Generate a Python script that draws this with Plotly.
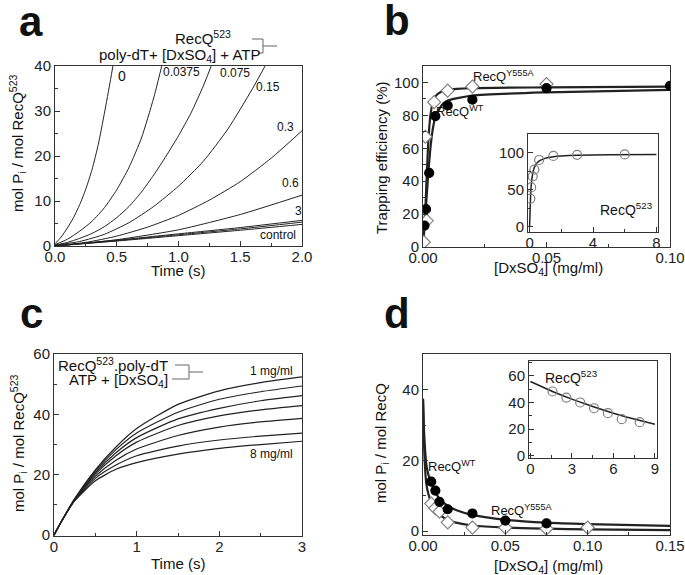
import plotly.graph_objects as go

W, H = 685, 575
FONT = "Liberation Sans, Arial, sans-serif"
INK = "#222222"
GREY = "#808080"

# ---------------- Panel a : ATPase time courses, RecQ523 + poly-dT + [DxSO4] + ATP
a_labels = ["0", "0.0375", "0.075", "0.15", "0.3", "0.6", "3", "1.5", "control"]
a_t_0 = [0, 0.05, 0.1, 0.15, 0.2, 0.25, 0.3, 0.35, 0.4, 0.45, 0.5]
a_y_0 = [0.5, 2.0, 4.0, 6.3, 9.2, 12.7, 17.0, 22.5, 29.5, 37.0, 45.0]
a_t_00375 = [0, 0.1, 0.2, 0.3, 0.4, 0.5, 0.6, 0.7, 0.8, 0.9]
a_y_00375 = [0.3, 1.5, 3.3, 5.5, 8.5, 12.5, 17.5, 24.0, 33.0, 44.0]
a_t_0075 = [0, 0.1, 0.2, 0.3, 0.4, 0.5, 0.6, 0.7, 0.8, 0.9, 1.0, 1.1, 1.2, 1.3]
a_y_0075 = [0.2, 0.8, 1.7, 2.8, 4.3, 6.3, 8.8, 12.0, 15.8, 20.0, 24.5, 29.5, 35.5, 42.5]
a_t_015 = [0, 0.2, 0.4, 0.6, 0.8, 1.0, 1.2, 1.4, 1.6, 1.8]
a_y_015 = [0.2, 1.0, 2.6, 5.2, 8.8, 13.3, 18.8, 26.0, 35.0, 45.0]
a_t_03 = [0, 0.25, 0.5, 0.75, 1.0, 1.25, 1.5, 1.75, 2.0]
a_y_03 = [0.1, 0.8, 2.2, 4.2, 6.8, 10.2, 14.3, 19.5, 25.6]
a_t_low = [0, 0.5, 1.0, 1.5, 2.0]
a_y_06 = [0.0, 1.4, 3.6, 7.0, 11.3]
a_y_3 = [0.0, 1.3, 2.7, 4.1, 5.7]
a_y_15 = [0.0, 1.2, 2.5, 3.8, 5.3]
a_y_control = [0.0, 1.1, 2.3, 3.5, 4.8]

# ---------------- Panel b : trapping efficiency vs [DxSO4]
b_wt_x = [0.0006, 0.0012, 0.0025, 0.005, 0.01, 0.02, 0.05, 0.1]
b_wt_y = [13, 23, 45, 79.5, 86, 89.5, 96.5, 98]
b_y555a_x = [0.0003, 0.0015, 0.001, 0.0045, 0.01, 0.02, 0.05]
b_y555a_y = [3, 16, 67, 88, 95, 97.5, 99]
b_fit_x = [0, 0.001, 0.002, 0.003, 0.004, 0.005, 0.0075, 0.01, 0.02, 0.05, 0.1]
b_fit_wt = [0, 20, 42, 60, 72, 79, 86, 89, 92, 94, 95.5]
b_fit_y555a = [0, 25, 60, 80, 88, 91.5, 94.5, 95.5, 96.5, 97, 97.5]
# inset: RecQ523
b_in_x = [0.05, 0.1, 0.2, 0.3, 0.6, 1.5, 3, 6]
b_in_y = [38, 53, 68, 77, 90, 95.5, 97, 97.5]
b_in_fit_x = [0, 0.03, 0.06, 0.1, 0.2, 0.3, 0.5, 1, 1.5, 2, 3, 5, 8]
b_in_fit_y = [0, 20, 40, 55, 72, 80, 87, 92.5, 94.5, 95.5, 96.5, 97, 97.3]

# ---------------- Panel c : RecQ523.poly-dT + ATP + [DxSO4]
c_t = [0, 0.1, 0.25, 0.5, 0.75, 1.0, 1.5, 2.0, 2.5, 3.0]
c_conc = ["1 mg/ml", "2 mg/ml", "3 mg/ml", "4 mg/ml", "5 mg/ml", "6 mg/ml", "8 mg/ml"]
c_y_1 = [0, 5, 12.0, 21.6, 29.2, 35.3, 43.3, 47.8, 50.5, 52.4]
c_y_2 = [0, 5, 12.0, 21.2, 28.3, 33.8, 40.7, 45.0, 47.5, 49.4]
c_y_3 = [0, 5, 11.9, 20.7, 27.3, 32.3, 38.5, 42.0, 44.5, 46.2]
c_y_4 = [0, 5, 11.8, 20.2, 26.3, 30.8, 36.3, 39.5, 41.5, 42.9]
c_y_5 = [0, 5, 11.7, 19.5, 24.8, 28.5, 33.0, 35.8, 37.5, 38.7]
c_y_6 = [0, 5, 11.5, 18.8, 23.2, 26.3, 29.5, 31.5, 32.8, 33.8]
c_y_8 = [0, 5, 11.3, 18.0, 21.8, 24.0, 26.8, 28.7, 30.0, 31.1]

# ---------------- Panel d : mol Pi / mol RecQ vs [DxSO4]
d_wt_x = [0.005, 0.0075, 0.01, 0.015, 0.03, 0.05, 0.075]
d_wt_y = [14, 11.5, 8.3, 6.2, 5.0, 3.0, 2.2]
d_y555a_x = [0.005, 0.0075, 0.01, 0.015, 0.03, 0.05, 0.075, 0.1]
d_y555a_y = [7.8, 6.5, 5.5, 2.5, 1.0, 1.0, 0.7, 1.0]
d_fit_x = [0, 0.0005, 0.001, 0.002, 0.003, 0.004, 0.005, 0.0075, 0.01, 0.015, 0.02, 0.03, 0.05, 0.075, 0.1, 0.15]
d_fit_wt = [37.5, 30, 25, 19, 16.5, 15, 13.8, 11, 9.2, 7.2, 6.0, 4.6, 3.2, 2.4, 2.0, 1.5]
d_fit_y555a = [37.5, 27, 20, 13.5, 11, 9.4, 8.2, 6.0, 4.7, 3.2, 2.4, 1.6, 1.0, 0.7, 0.5, 0.3]
# inset: RecQ523
d_in_x = [1.6, 2.6, 3.6, 4.6, 5.6, 6.6, 7.9]
d_in_y = [48.2, 43.7, 40.0, 35.7, 32.0, 27.5, 25.3]
d_in_fit_x = [0, 1, 2, 3, 4, 5, 6, 7, 8, 9]
d_in_fit_y = [55.7, 51.0, 46.5, 42.5, 38.8, 35.3, 32.0, 29.0, 26.3, 23.8]


def px(x):
    return x / W


def py(y):
    return 1 - y / H


fig = go.Figure()


def line(x, y, ax, width=1.0, color=INK, name=""):
    fig.add_trace(go.Scatter(x=x, y=y, mode="lines", name=name,
                             line=dict(color=color, width=width, shape="spline", smoothing=0.6),
                             xaxis=ax[0], yaxis=ax[1], hoverinfo="skip"))


def pts(x, y, ax, symbol, size, fill, edge, name=""):
    fig.add_trace(go.Scatter(x=x, y=y, mode="markers", name=name,
                             marker=dict(symbol=symbol, size=size, color=fill,
                                         line=dict(color=edge, width=1.2)),
                             xaxis=ax[0], yaxis=ax[1]))


A = ("x", "y"); B = ("x2", "y2"); BI = ("x3", "y3"); C = ("x4", "y4"); D = ("x5", "y5"); DI = ("x6", "y6")

# panel a
for t, yv, nm in [(a_t_0, a_y_0, a_labels[0]), (a_t_00375, a_y_00375, a_labels[1]),
                  (a_t_0075, a_y_0075, a_labels[2]), (a_t_015, a_y_015, a_labels[3]),
                  (a_t_03, a_y_03, a_labels[4]), (a_t_low, a_y_06, a_labels[5]),
                  (a_t_low, a_y_3, a_labels[6]), (a_t_low, a_y_15, a_labels[7]),
                  (a_t_low, a_y_control, a_labels[8])]:
    line(t, yv, A, 1.0, name=nm)

# panel b
line(b_fit_x, b_fit_wt, B, 2.2, name="WT fit")
line(b_fit_x, b_fit_y555a, B, 2.2, name="Y555A fit")
pts(b_y555a_x, b_y555a_y, B, "diamond", 10, "white", GREY, "RecQ Y555A")
pts(b_wt_x, b_wt_y, B, "circle", 9, "black", "black", "RecQ WT")
line(b_in_fit_x, b_in_fit_y, BI, 1.5, name="523 fit")
pts(b_in_x, b_in_y, BI, "circle", 9, "rgba(0,0,0,0)", GREY, "RecQ523")

# panel c
for yv, nm in zip([c_y_1, c_y_2, c_y_3, c_y_4, c_y_5, c_y_6, c_y_8], c_conc):
    line(c_t, yv, C, 1.2, name=nm)

# panel d
line(d_fit_x, d_fit_wt, D, 2.2, name="WT fit")
line(d_fit_x, d_fit_y555a, D, 2.2, name="Y555A fit")
pts(d_y555a_x, d_y555a_y, D, "diamond", 10, "white", GREY, "RecQ Y555A")
pts(d_wt_x, d_wt_y, D, "circle", 9, "black", "black", "RecQ WT")
line(d_in_fit_x, d_in_fit_y, DI, 1.5, name="523 fit")
pts(d_in_x, d_in_y, DI, "circle", 9, "rgba(0,0,0,0)", GREY, "RecQ523")


def axis(dom, rng, dtick, minor, fmt=None, anchor=None, size=15, xa=True):
    d = dict(domain=dom, range=rng, dtick=dtick, tick0=0, showline=True, mirror=True,
             linecolor="#333", linewidth=1, ticks="inside", ticklen=5, tickcolor="#333",
             showgrid=False, zeroline=False, automargin=False,
             tickfont=dict(size=size, color="#222", family=FONT),
             minor=dict(ticks="inside", ticklen=3, dtick=minor, tickcolor="#333", showgrid=False),
             anchor=anchor, fixedrange=True)
    if xa:
        d["ticklabelstandoff"] = -3
    if fmt:
        d["tickformat"] = fmt
    return d


def xdom(l, r):
    return [px(l), px(r)]


def ydom(top, bottom):
    return [py(bottom), py(top)]


fig.update_layout(
    template="none",
    width=W, height=H, margin=dict(l=0, r=0, t=0, b=0, pad=0), autosize=False,
    paper_bgcolor="white", plot_bgcolor="white", showlegend=False,
    font=dict(family=FONT, color="#222", size=15),
    xaxis=axis(xdom(55, 302), [0, 2], 0.5, 0.25, ".1f", "y"),
    yaxis=axis(ydom(66, 246), [0, 40], 10, 5, None, "x", xa=False),
    xaxis2=axis(xdom(423, 670), [0, 0.1], 0.05, 0.025, ".2f", "y2"),
    yaxis2=axis(ydom(66, 247), [0, 110], 20, 10, None, "x2", xa=False),
    xaxis3=axis(xdom(528, 658), [-0.1, 8.1], 4, 2, None, "y3"),
    yaxis3=axis(ydom(134, 232), [-7, 125], 50, 25, None, "x3", xa=False),
    xaxis4=axis(xdom(54, 302), [0, 3], 1, 0.5, None, "y4"),
    yaxis4=axis(ydom(354, 536), [-0.3, 60], 20, 10, None, "x4", xa=False),
    xaxis5=axis(xdom(423, 670), [0, 0.15], 0.05, 0.025, ".2f", "y5"),
    yaxis5=axis(ydom(354, 535), [-1.1, 50.2], 20, 10, None, "x5", xa=False),
    xaxis6=axis(xdom(529, 657), [-0.1, 9.15], 3, 1.5, None, "y6"),
    yaxis6=axis(ydom(361, 458), [-1.5, 71], 20, 10, None, "x6", xa=False),
)

ann = []


def text(s, x, y, size=13, angle=0, bold=False, xanchor="center"):
    if bold:
        s = "<b>" + s + "</b>"
    ann.append(dict(text=s, x=px(x), y=py(y), xref="paper", yref="paper", showarrow=False,
                    xanchor=xanchor, yanchor="middle", textangle=angle,
                    font=dict(size=size, family=FONT, color="#111")))


# panel letters
text("a", 31, 22, 42, bold=True)
text("b", 397, 20, 42, bold=True)
text("c", 31, 313, 42, bold=True)
text("d", 397, 313, 42, bold=True)

# axis titles
text("mol P<sub>i</sub> / mol RecQ<sup>523</sup>", 18, 143, 15, -90)
text("Time (s)", 178, 270, 15)
text("Trapping efficiency (%)", 381, 158, 15, -90)
text("[DxSO<sub>4</sub>] (mg/ml)", 548, 268, 15)
text("mol P<sub>i</sub> / mol RecQ<sup>523</sup>", 18, 443, 15, -90)
text("Time (s)", 178, 563, 15)
text("mol P<sub>i</sub> / mol RecQ", 381, 443, 15, -90)
text("[DxSO<sub>4</sub>] (mg/ml)", 548, 566, 15)

# panel a annotations
text("RecQ<sup>523</sup>", 203, 37, 15)
text("poly-dT+ [DxSO<sub>4</sub>] + ATP", 179, 55, 15)
for s, x, y, sz in [("0", 122, 76, 14), ("0.0375", 181, 72, 12), ("0.075", 235, 73, 12),
                    ("0.15", 268, 87, 12), ("0.3", 285, 127, 12), ("0.6", 290, 183, 12),
                    ("3", 298, 211, 12), ("control", 278, 235, 12)]:
    text(s, x, y, sz)

# panel b annotations
text("RecQ<sup>Y555A</sup>", 504, 76, 13)
text("RecQ<sup>WT</sup>", 460, 111, 13)
text("RecQ<sup>523</sup>", 626, 209, 14)

# panel c annotations
text("RecQ<sup>523</sup>.poly-dT", 113, 364, 15)
text("ATP + [DxSO<sub>4</sub>]", 170, 380, 15, xanchor="right")
text("1 mg/ml", 271, 371, 12)
text("8 mg/ml", 271, 454, 12)

# panel d annotations
text("RecQ<sup>WT</sup>", 452, 466, 13)
text("RecQ<sup>Y555A</sup>", 521, 510, 13)
text("RecQ<sup>523</sup>", 571, 377, 14)

fig.update_layout(annotations=ann)

# bracket decorations
shapes = []
for (x0, y0, x1, y1) in [(252, 39, 263, 39), (263, 39, 263, 53), (258, 53, 263, 53), (263, 46, 277, 46),
                         (175, 365, 189, 365), (189, 365, 189, 379), (172, 379, 189, 379), (189, 372, 203, 372)]:
    shapes.append(dict(type="line", xref="paper", yref="paper", x0=px(x0), y0=py(y0), x1=px(x1), y1=py(y1),
                       line=dict(color="#666", width=1)))
fig.update_layout(shapes=shapes)

fig.write_html("out.html", config={"displayModeBar": False},
               post_script="document.body.style.margin='0';document.body.style.overflow='hidden';")
